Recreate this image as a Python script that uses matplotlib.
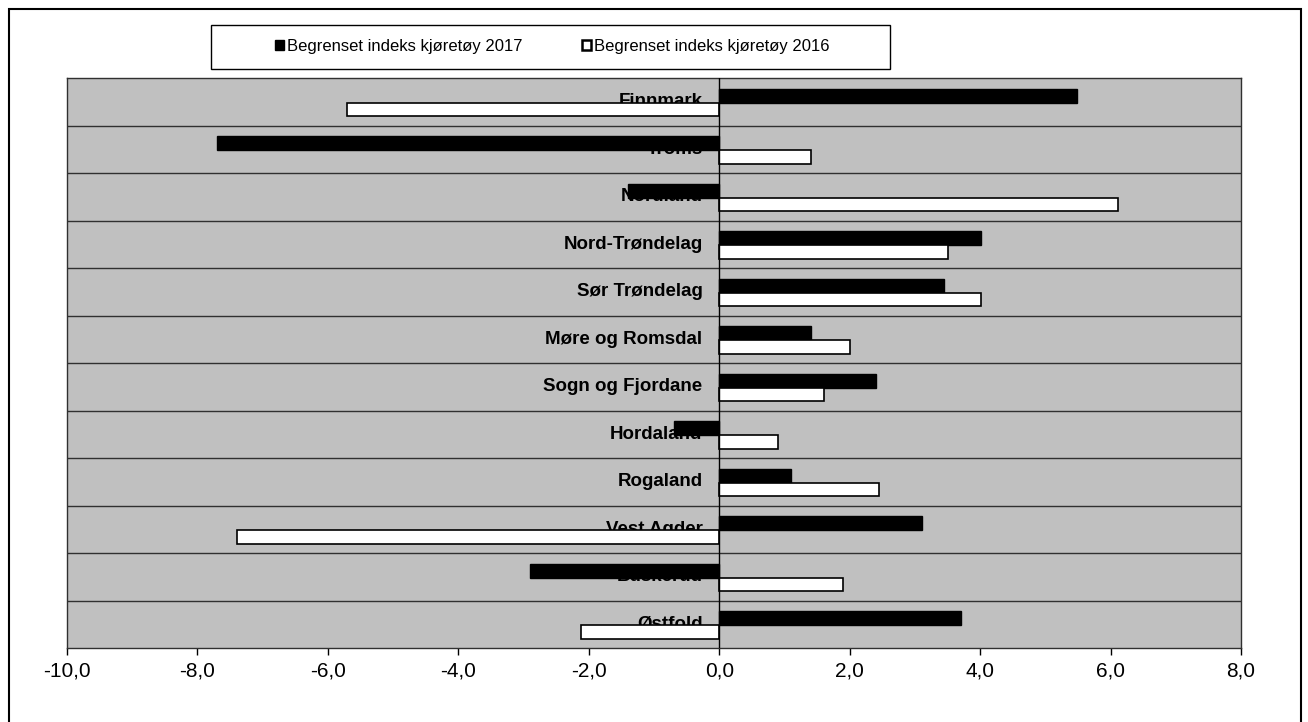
import matplotlib
matplotlib.use('Agg')
import matplotlib.pyplot as plt
import matplotlib.patches as patches
from matplotlib.ticker import FuncFormatter
import numpy as np

plt.rcParams['font.family'] = ['Liberation Sans', 'DejaVu Sans']

# Data, top row first
fylker = ['Finnmark', 'Troms', 'Nordland', 'Nord-Trøndelag', 'Sør Trøndelag',
          'Møre og Romsdal', 'Sogn og Fjordane', 'Hordaland', 'Rogaland',
          'Vest Agder', 'Buskerud', 'Østfold']
indeks_2017 = [5.48, -7.7, -1.4, 4.02, 3.45, 1.4, 2.41, -0.69, 1.1, 3.11, -2.9, 3.7]
indeks_2016 = [-5.7, 1.4, 6.12, 3.5, 4.02, 2.0, 1.6, 0.9, 2.45, -7.39, 1.9, -2.12]
x_ticks = [-10, -8, -6, -4, -2, 0, 2, 4, 6, 8]

fig = plt.figure(figsize=(13.08, 7.22), dpi=100)
ax = fig.add_axes([67 / 1308, 1 - 648 / 722, 1174 / 1308, 570 / 722])
ax.set_facecolor('#c0c0c0')

y = np.arange(len(fylker))
bar_h = 0.29
ax.barh(y - bar_h / 2 + 0.02, indeks_2017, height=bar_h, color='black',
        edgecolor='black', linewidth=1, zorder=3)
ax.barh(y + bar_h / 2 + 0.02, indeks_2016, height=bar_h, color='white',
        edgecolor='black', linewidth=1.2, zorder=3)

# category labels sit at the zero axis, behind the bars
for yi, name in zip(y, fylker):
    ax.annotate(name, xy=(0, yi), xytext=(-12, 0), textcoords='offset points',
                ha='right', va='center', fontsize=13.5, fontweight='bold', zorder=2)

ax.axvline(0, color='black', linewidth=1, zorder=4)

ax.set_xlim(-10, 8)
ax.set_ylim(len(fylker) - 0.5, -0.5)
ax.set_xticks(x_ticks)
ax.xaxis.set_major_formatter(FuncFormatter(lambda v, p: f'{v:.1f}'.replace('.', ',')))
ax.tick_params(axis='x', direction='out', length=5, width=1, labelsize=15, pad=5)

ax.set_yticks([])
ax.set_yticks(y[:-1] + 0.5, minor=True)
ax.tick_params(axis='y', which='both', length=0, labelleft=False)
ax.grid(which='minor', axis='y', color='#303030', linewidth=1)
ax.set_axisbelow(True)
for s in ax.spines.values():
    s.set_color('#303030')
    s.set_linewidth(1)

# legend box
fig.patches.append(patches.Rectangle((211 / 1308, 1 - 69 / 722), 679 / 1308, 44 / 722,
                                     transform=fig.transFigure, facecolor='white',
                                     edgecolor='black', linewidth=1))
handles = [patches.Patch(facecolor='black', edgecolor='black'),
           patches.Patch(facecolor='white', edgecolor='black', linewidth=1.8)]
fig.legend(handles, ['Begrenset indeks kjøretøy 2017', 'Begrenset indeks kjøretøy 2016'],
           loc='center', bbox_to_anchor=(552 / 1308, 1 - 46 / 722), ncol=2,
           frameon=False, fontsize=12, handlelength=0.55, handleheight=0.55,
           handletextpad=0.15, columnspacing=3.6)

# outer chart border
fig.patches.append(patches.Rectangle((8.5 / 1308, -0.05), 1292.5 / 1308, 1.05 - 8.5 / 722,
                                     transform=fig.transFigure, fill=False,
                                     edgecolor='black', linewidth=1.5))

fig.savefig('out.png', dpi=100)
